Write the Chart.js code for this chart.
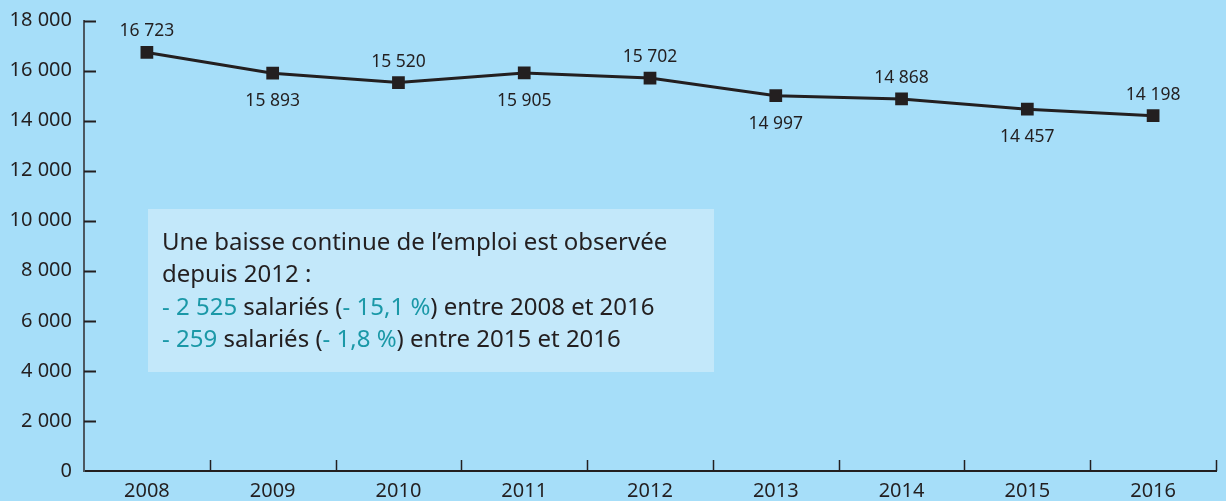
<!DOCTYPE html>
<html>
<head>
<meta charset="utf-8">
<script src="https://cdn.jsdelivr.net/npm/chart.js@4.4.1/dist/chart.umd.min.js"></script>
<style>
  html, body { margin: 0; padding: 0; background: #a6def9; }
  #wrap { width: 1226px; height: 501px; }
</style>
</head>
<body>
<div id="wrap"><canvas id="emploiChart"></canvas></div>
<script>
// ── Données ──
const annees = ['2008', '2009', '2010', '2011', '2012', '2013', '2014', '2015', '2016'];
const salaries = [16723, 15893, 15520, 15905, 15702, 14997, 14868, 14457, 14198];
// position de l'étiquette : 1 = au-dessus, -1 = en dessous
const posEtiquettes = [1, -1, 1, -1, 1, -1, 1, -1, 1];
const yTicks = [0, 2000, 4000, 6000, 8000, 10000, 12000, 14000, 16000, 18000];

const NOIR = '#231f20';
const TURQUOISE = '#1a98a7';
const POLICE = '"Noto Sans", "Open Sans", sans-serif';

function fmt(v) {
    return String(v).replace(/\B(?=(\d{3})+(?!\d))/g, ' ');
}

// lignes de l'encadré : [texte, couleur]
const encadre = [
    [['Une baisse continue de l\u2019emploi est observée', NOIR]],
    [['depuis 2012 :', NOIR]],
    [['- 2 525', TURQUOISE], [' salariés (', NOIR], ['- 15,1 %', TURQUOISE], [') entre 2008 et 2016', NOIR]],
    [['- 259', TURQUOISE], [' salariés (', NOIR], ['- 1,8 %', TURQUOISE], [') entre 2015 et 2016', NOIR]]
];

// ── Plugin : encadré, graduations internes, étiquettes ──
const habillage = {
    id: 'habillage',
    beforeDatasetsDraw(chart) {
        const ctx = chart.ctx;
        const { left, bottom } = chart.chartArea;
        const x = chart.scales.x, y = chart.scales.y;

        // encadré
        ctx.save();
        ctx.fillStyle = '#c3e8fa';
        ctx.fillRect(148, 209, 566, 163);
        ctx.font = '24px ' + POLICE;
        ctx.textBaseline = 'middle';
        encadre.forEach((ligne, i) => {
            let cx = 162;
            ligne.forEach(([txt, col]) => {
                ctx.fillStyle = col;
                ctx.fillText(txt, cx, 243 + i * 32.4);
                cx += ctx.measureText(txt).width;
            });
        });

        // graduations Y (vers l'intérieur)
        ctx.strokeStyle = NOIR;
        ctx.lineWidth = 2;
        yTicks.forEach(v => {
            if (v === 0) return;
            const py = Math.round(y.getPixelForValue(v)) + 0.5;
            ctx.beginPath();
            ctx.moveTo(left, py);
            ctx.lineTo(left + 12, py);
            ctx.stroke();
        });

        // graduations X entre les catégories
        const w = (x.getPixelForValue(1) - x.getPixelForValue(0));
        ctx.lineWidth = 1.5;
        for (let i = 1; i <= annees.length; i++) {
            const px = Math.round(x.getPixelForValue(i - 1) + w / 2) + 0.5;
            ctx.beginPath();
            ctx.moveTo(px, bottom);
            ctx.lineTo(px, bottom - 11);
            ctx.stroke();
        }
        ctx.restore();
    },
    afterDatasetsDraw(chart) {
        const ctx = chart.ctx;
        const meta = chart.getDatasetMeta(0);
        ctx.save();
        ctx.font = '17.5px ' + POLICE;
        ctx.fillStyle = NOIR;
        ctx.textAlign = 'center';
        ctx.textBaseline = 'alphabetic';
        meta.data.forEach((pt, i) => {
            const dy = posEtiquettes[i] > 0 ? -16 : 33;
            ctx.fillText(fmt(salaries[i]), pt.x, pt.y + dy);
        });
        ctx.restore();
    }
};

new Chart(document.getElementById('emploiChart'), {
    type: 'line',
    data: {
        labels: annees,
        datasets: [{
            data: salaries,
            borderColor: NOIR,
            borderWidth: 3,
            pointStyle: 'rect',
            pointRadius: 9,
            pointBackgroundColor: NOIR,
            pointBorderColor: NOIR,
            pointBorderWidth: 0,
            tension: 0
        }]
    },
    options: {
        responsive: true,
        maintainAspectRatio: false,
        animation: false,
        layout: { padding: { top: 0, right: 10, left: 0, bottom: 0 } },
        plugins: { legend: { display: false }, tooltip: { enabled: false } },
        scales: {
            x: {
                offset: true,
                grid: { display: false, drawTicks: false },
                border: { display: true, color: NOIR, width: 2 },
                ticks: { color: NOIR, font: { family: POLICE, size: 20 }, padding: 8, maxRotation: 0 },
                afterFit: s => { s.height = 30; }
            },
            y: {
                min: 0,
                max: 18000,
                grid: { display: false, drawTicks: false },
                border: { display: true, color: '#4b5861', width: 2 },
                afterBuildTicks: s => { s.ticks = yTicks.map(v => ({ value: v })); },
                ticks: {
                    color: NOIR,
                    font: { family: POLICE, size: 20, lineHeight: 0.85 },
                    padding: 12,
                    callback: v => fmt(v)
                },
                afterFit: s => { s.width = 84; }
            }
        }
    },
    plugins: [habillage]
});
</script>
</body>
</html>
